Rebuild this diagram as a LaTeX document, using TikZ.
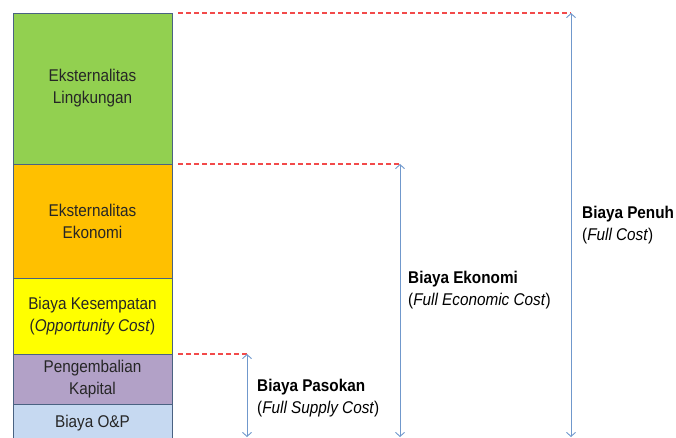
\documentclass[tikz,border=0pt]{standalone}
\usepackage{fontspec}
\setmainfont{Liberation Sans}[FakeStretch=0.9]
\usetikzlibrary{arrows.meta, positioning}

\definecolor{hijau}{HTML}{92D050}
\definecolor{oranye}{HTML}{FFC000}
\definecolor{kuning}{HTML}{FFFF00}
\definecolor{ungu}{HTML}{B2A1C7}
\definecolor{biru}{HTML}{C6D9F1}
\definecolor{garis}{HTML}{4A6282}
\definecolor{panah}{HTML}{7098CC}
\definecolor{merah}{HTML}{F24A4A}
\definecolor{teks}{HTML}{262626}

\begin{document}
\begin{tikzpicture}[x=1pt, y=-1pt,
	blok/.style={draw=garis, line width=0.8pt, minimum width=159pt, inner sep=0pt, outer sep=0pt,
		align=center, text=teks, font=\fontsize{17}{22}\selectfont, anchor=north west},
	ukur/.style={draw=panah, line width=0.9pt,
		{Straight Barb[length=4pt,width=9pt]}-{Straight Barb[length=4pt,width=9pt]}},
	putus/.style={draw=merah, line width=1.2pt, dash pattern=on 5pt off 3pt},
	keterangan/.style={anchor=north west, align=left, inner sep=0pt, font=\fontsize{17}{22}\selectfont}]
	\useasboundingbox (0,0) rectangle (676,438);
	\clip (0,0) rectangle (676,438);

	% Draw the stacked cost blocks
	\node[blok, fill=hijau, minimum height=151pt] (lingkungan) at (13,13) {Eksternalitas\\Lingkungan};
	\node[blok, fill=oranye, minimum height=114pt, below=0pt of lingkungan] (ekonomi) {Eksternalitas\\Ekonomi};
	\node[blok, fill=kuning, minimum height=76pt, below=0pt of ekonomi] (kesempatan) {Biaya Kesempatan\\(\textit{Opportunity Cost})};
	\node[blok, fill=ungu, minimum height=50pt, below=0pt of kesempatan] (kapital) {Pengembalian\\Kapital};
	\node[blok, fill=biru, minimum height=38pt, below=0pt of kapital] (op) {Biaya O\&P};

	% Ends of the dashed lines and of the arrows
	\path (lingkungan.north east) ++(6,0) coordinate (penuhKiri) ++(393,0) coordinate (penuhAtas);
	\path (ekonomi.north east) ++(6,0) coordinate (ekonomiKiri) ++(222,0) coordinate (ekonomiAtas);
	\path (kapital.north east) ++(6,0) coordinate (pasokanKiri) ++(69,0) coordinate (pasokanAtas);
	\coordinate (penuhBawah) at (571,437);
	\coordinate (ekonomiBawah) at (400,437);
	\coordinate (pasokanBawah) at (247,437);

	% Draw the dashed level lines
	\draw[putus] (penuhKiri) -- (penuhAtas);
	\draw[putus] (ekonomiKiri) -- (ekonomiAtas);
	\draw[putus] (pasokanKiri) -- (pasokanAtas);

	% Draw the measuring arrows
	\draw[ukur] (penuhAtas) -- (penuhBawah);
	\draw[ukur] (ekonomiAtas) -- (ekonomiBawah);
	\draw[ukur] (pasokanAtas) -- (pasokanBawah);

	% Labels of the arrows
	\node[keterangan] (penuh) at (582,206) {\textbf{Biaya Penuh}\\(\textit{Full Cost})};
	\node[keterangan] (ekonomiLabel) at (408,271) {\textbf{Biaya Ekonomi}\\(\textit{Full Economic Cost})};
	\node[keterangan] (pasokan) at (257,379) {\textbf{Biaya Pasokan}\\(\textit{Full Supply Cost})};

\end{tikzpicture}
\end{document}
